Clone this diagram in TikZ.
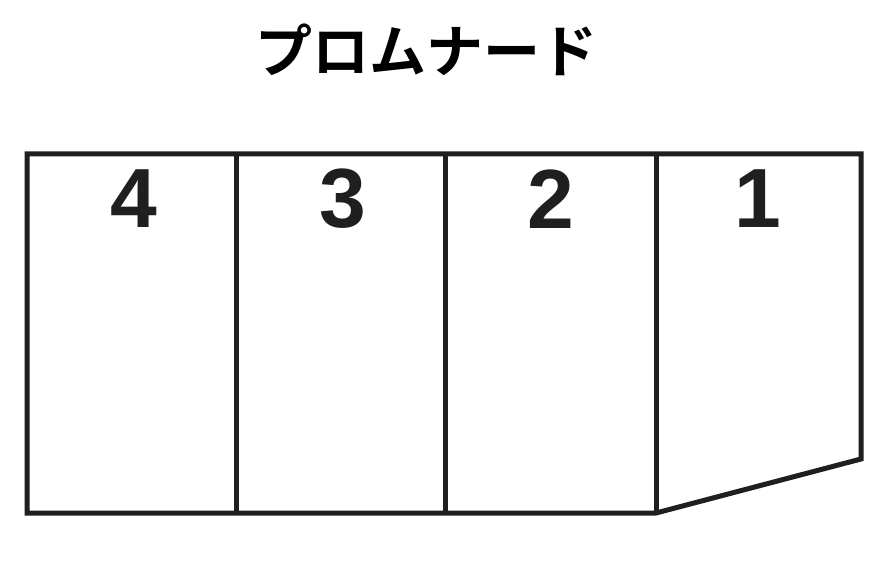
\documentclass[tikz,border=0pt]{standalone}
\usepackage{fontspec}
\setmainfont{Liberation Sans}
\newfontfamily\cjk{Noto Sans CJK JP}[BoldFont={* Bold}]
\begin{document}
\begin{tikzpicture}[x=1pt,y=-1pt,
  edge/.style={line width=5pt,line join=miter,black!88},
  num/.style={font=\fontsize{84}{84}\selectfont\bfseries,inner sep=0pt,anchor=center,black!88},
  title/.style={font=\cjk\bfseries\fontsize{57}{57}\selectfont,inner sep=0pt}]
\useasboundingbox (0,0) rectangle (893,564);
\fill[white] (0,0) rectangle (893,564);
\node[title] (t) at (426,50) {プロムナード};
\coordinate (tl) at (27,154);
\coordinate (tr) at (861,154);
\coordinate (br) at (861,459);
\coordinate (bm) at (656,513);
\coordinate (bl) at (27,513);
\coordinate (d1t) at (236,154);
\coordinate (d1b) at (236,513);
\coordinate (d2t) at (445,154);
\coordinate (d2b) at (445,513);
\coordinate (d3t) at (656,154);
\draw[edge] (tl) -- (tr) -- (br) -- (bm) -- (bl) -- cycle;
\draw[edge] (d1t) -- (d1b);
\draw[edge] (d2t) -- (d2b);
\draw[edge] (d3t) -- (bm);
\node[num] (n4) at (134,199) {4};
\node[num] (n3) at (343,199) {3};
\node[num] (n2) at (551,199) {2};
\node[num] (n1) at (758,199) {1};
\end{tikzpicture}
\end{document}
